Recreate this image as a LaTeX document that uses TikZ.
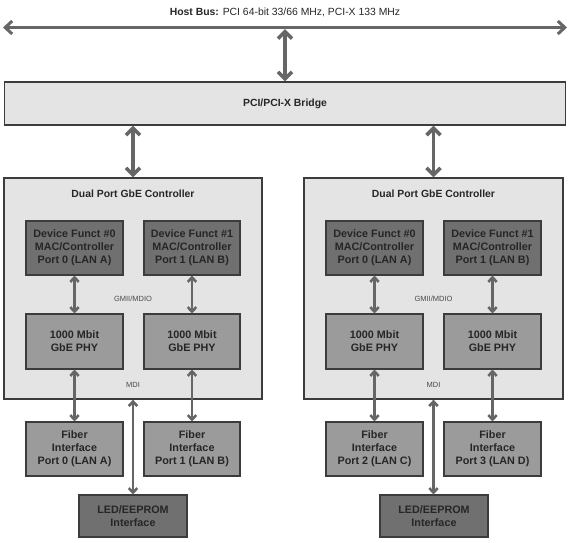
\documentclass[tikz,border=0pt]{standalone}
\usepackage{fontspec}
\setmainfont{Liberation Sans}
\usetikzlibrary{arrows.meta}
\definecolor{panel}{HTML}{E4E4E4}
\definecolor{darkbox}{HTML}{707070}
\definecolor{midbox}{HTML}{9B9B9B}
\definecolor{edge}{HTML}{3C3C3C}
\definecolor{arr}{HTML}{666666}
\definecolor{txt}{HTML}{262626}
\tikzset{
  panelbox/.style={draw=edge, line width=1.3pt, fill=panel, inner sep=0pt},
  darkblock/.style={draw=edge, line width=1.1pt, fill=darkbox, inner sep=0pt, align=center,
    font=\fontsize{10.8}{13}\selectfont\bfseries, text=txt},
  midblock/.style={draw=edge, line width=1.1pt, fill=midbox, inner sep=0pt, align=center,
    font=\fontsize{10.8}{13}\selectfont\bfseries, text=txt},
  lbl/.style={font=\fontsize{10.4}{12}\selectfont\bfseries, text=txt},
  small/.style={font=\fontsize{7.5}{9}\selectfont, text=black!70},
  bigarrow/.style={arr, line width=3.6pt, {Straight Barb[length=7pt,width=14pt]}-{Straight Barb[length=7pt,width=14pt]}},
  busarrow/.style={arr, line width=3pt, {Straight Barb[length=7pt,width=13pt]}-{Straight Barb[length=7pt,width=13pt]}},
  smallarrow/.style={arr, line width=2.6pt, {Straight Barb[length=4.5pt,width=8.5pt]}-{Straight Barb[length=4.5pt,width=8.5pt]}},
}
\begin{document}
\begin{tikzpicture}[x=1pt,y=-1pt]
\useasboundingbox (0,0) rectangle (570,542);
\node[font=\fontsize{10.4}{12}\selectfont, text=txt] (host) at (285,12) {\textbf{Host Bus:} PCI 64-bit 33/66 MHz, PCI-X 133 MHz};
\coordinate (busL) at (3,27.5);
\coordinate (busR) at (567,27.5);
\coordinate (busT) at (285,29);
\draw[busarrow] (busL) -- (busR);

\node[panelbox, minimum width=561pt, minimum height=43pt] (bridge) at (285,103.5) {};
\node[lbl] (bridgelbl) at (285,104) {PCI/PCI-X Bridge};
\draw[bigarrow] (busT) -- (bridge.north -| busT);

% left controller
\node[panelbox, minimum width=258pt, minimum height=221pt] (ctrlL) at (133,288.5) {};
\node[lbl] (titleL) at (133,194) {Dual Port GbE Controller};
\node[darkblock, minimum width=97pt, minimum height=54pt] (macA) at (74.5,248) {Device Funct \#0\\MAC/Controller\\Port 0 (LAN A)};
\node[darkblock, minimum width=96pt, minimum height=54pt] (macB) at (192,248) {Device Funct \#1\\MAC/Controller\\Port 1 (LAN B)};
\node[midblock, minimum width=97pt, minimum height=55pt] (phyA) at (74.5,341.5) {1000 Mbit\\GbE PHY};
\node[midblock, minimum width=96pt, minimum height=55pt] (phyB) at (192,341.5) {1000 Mbit\\GbE PHY};
\node[small] (gmiiL) at (133,299) {GMII/MDIO};
\node[small] (mdiL) at (133,385) {MDI};
\node[midblock, minimum width=97pt, minimum height=54pt] (fibA) at (74.5,449) {Fiber\\Interface\\Port 0 (LAN A)};
\node[midblock, minimum width=96pt, minimum height=54pt] (fibB) at (192,449) {Fiber\\Interface\\Port 1 (LAN B)};
\node[darkblock, minimum width=108pt, minimum height=42pt] (ledL) at (133,516) {LED/EEPROM\\Interface};

% right controller
\node[panelbox, minimum width=259pt, minimum height=221pt] (ctrlR) at (433.5,288.5) {};
\node[lbl] (titleR) at (433.5,194) {Dual Port GbE Controller};
\node[darkblock, minimum width=97pt, minimum height=54pt] (macC) at (374.5,248) {Device Funct \#0\\MAC/Controller\\Port 0 (LAN A)};
\node[darkblock, minimum width=97pt, minimum height=54pt] (macD) at (492.5,248) {Device Funct \#1\\MAC/Controller\\Port 1 (LAN B)};
\node[midblock, minimum width=97pt, minimum height=55pt] (phyC) at (374.5,341.5) {1000 Mbit\\GbE PHY};
\node[midblock, minimum width=97pt, minimum height=55pt] (phyD) at (492.5,341.5) {1000 Mbit\\GbE PHY};
\node[small] (gmiiR) at (433.5,299) {GMII/MDIO};
\node[small] (mdiR) at (433.5,385) {MDI};
\node[midblock, minimum width=97pt, minimum height=54pt] (fibC) at (374.5,449) {Fiber\\Interface\\Port 2 (LAN C)};
\node[midblock, minimum width=97pt, minimum height=54pt] (fibD) at (492.5,449) {Fiber\\Interface\\Port 3 (LAN D)};
\node[darkblock, minimum width=108pt, minimum height=42pt] (ledR) at (434,516) {LED/EEPROM\\Interface};

% bridge to controllers
\draw[bigarrow] (bridge.south -| ctrlL.north) -- (ctrlL.north);
\draw[bigarrow] (bridge.south -| ctrlR.north) -- (ctrlR.north);

% internal arrows
\foreach \m/\p/\f in {macA/phyA/fibA, macB/phyB/fibB, macC/phyC/fibC, macD/phyD/fibD}{
  \draw[smallarrow] (\m.south) -- (\p.north);
  \draw[smallarrow] (\p.south) -- (\f.north);
}
\draw[smallarrow] (ctrlL.south) -- (ledL.north -| ctrlL.south);
\draw[smallarrow] (ctrlR.south) -- (ledR.north -| ctrlR.south);
\end{tikzpicture}
\end{document}
